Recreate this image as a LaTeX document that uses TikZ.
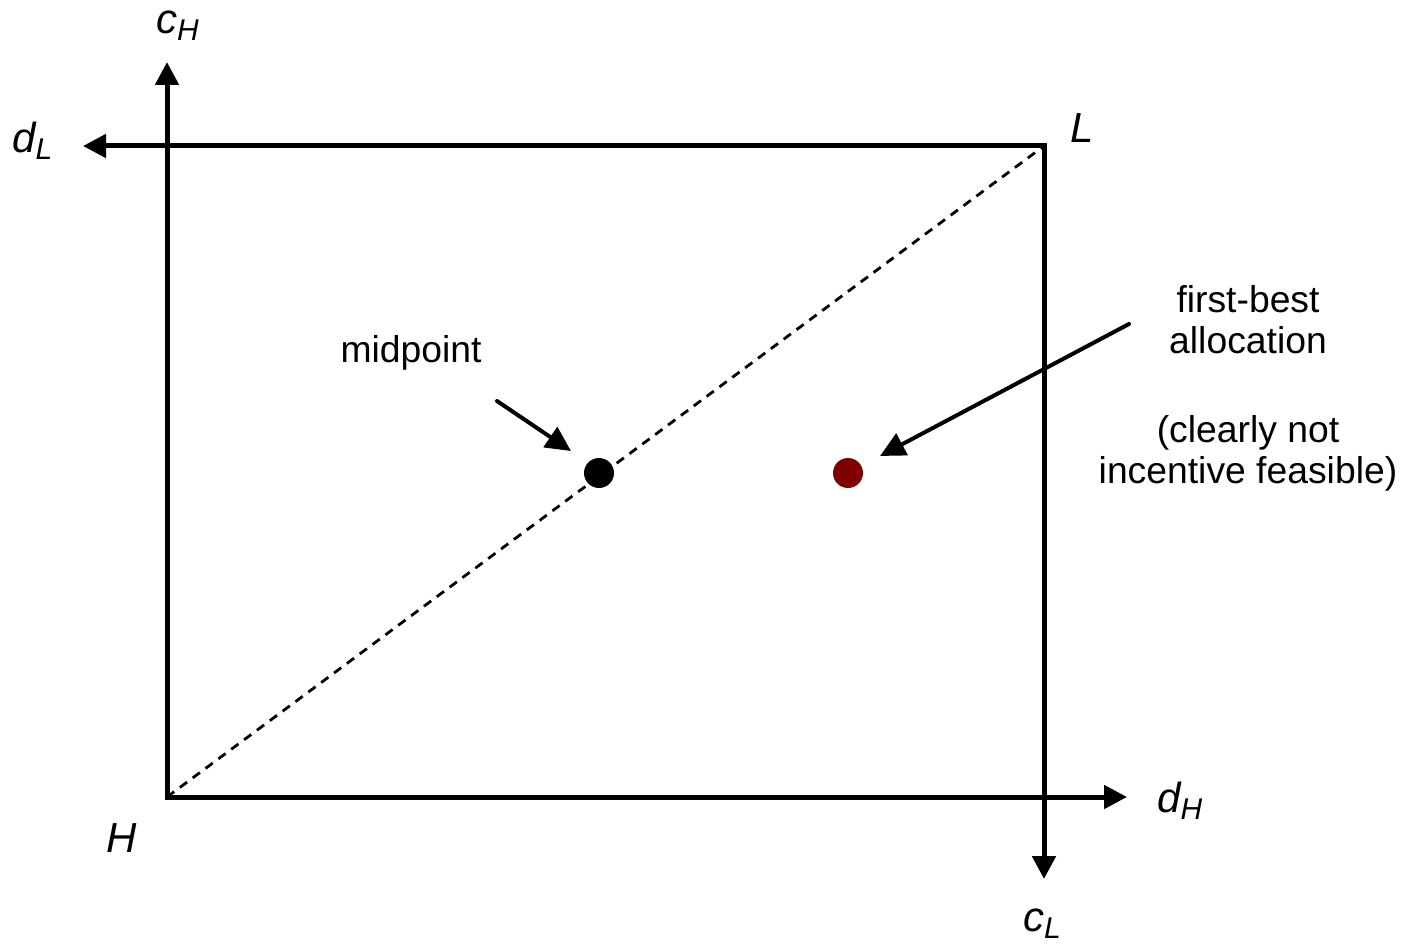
\documentclass[tikz,border=0pt]{standalone}
\usepackage{fontspec}
\setmainfont{Liberation Sans}
\usetikzlibrary{arrows.meta}
\newcommand\axlab[2]{\fontsize{42}{42}\selectfont\itshape #1\raisebox{-7pt}{\fontsize{30}{30}\selectfont #2}}
\tikzset{
  axis/.style={line width=5pt, line join=miter, {Triangle[length=23pt,width=23pt]}-{Triangle[length=23pt,width=23pt]}},
  pointer/.style={line width=4pt, line cap=round, -{Triangle[length=25pt,width=24pt]}},
  diag/.style={line width=2.8pt, dash pattern=on 9pt off 7pt},
  dot/.style={circle, inner sep=0pt, minimum size=30pt},
  lab/.style={anchor=base west, inner sep=0pt},
  txt/.style={font=\fontsize{37.3}{41}\selectfont, align=center, inner sep=0pt}
}
\begin{document}
\begin{tikzpicture}[x=1pt,y=-1pt]
\useasboundingbox (0,0) rectangle (1406,944);
\coordinate (H) at (167,797);
\coordinate (L) at (1044,146);
\coordinate (cHtip) at (167,62);
\coordinate (dHtip) at (1127,797);
\coordinate (dLtip) at (83,146);
\coordinate (cLtip) at (1044,879);
\draw[diag] (H) -- (L);
\draw[axis] (cHtip) -- (H) -- (dHtip);
\draw[axis] (dLtip) -- (L) -- (cLtip);
\node[dot, fill=black] (mid) at (599,473) {};
\node[dot, fill={rgb,255:red,128;green,0;blue,0}] (fb) at (848,473) {};
\node[lab] (lcH) at (156,34) {\axlab{c}{H}};
\node[lab] (ldL) at (12,153) {\axlab{d}{L}};
\node[lab] (lL) at (1070,143) {\axlab{L}{}};
\node[lab] (ldH) at (1157,812) {\axlab{d}{H}};
\node[lab] (lH) at (106,852) {\axlab{H}{}};
\node[lab] (lcL) at (1023,931) {\axlab{c}{L}};
\node[txt, anchor=base] (tmid) at (411,362) {midpoint};
\node[txt, anchor=base] (tfb1) at (1248,312) {first-best};
\node[txt, anchor=base] (tfb2) at (1248,353) {allocation};
\node[txt, anchor=base] (tcl1) at (1248,442) {(clearly not};
\node[txt, anchor=base] (tcl2) at (1248,483) {incentive feasible)};
\coordinate (a1s) at (497,401);
\coordinate (a1e) at (571,451);
\coordinate (a2s) at (1129,324);
\coordinate (a2e) at (880,456);
\draw[pointer] (a1s) -- (a1e);
\draw[pointer] (a2s) -- (a2e);
\end{tikzpicture}
\end{document}
